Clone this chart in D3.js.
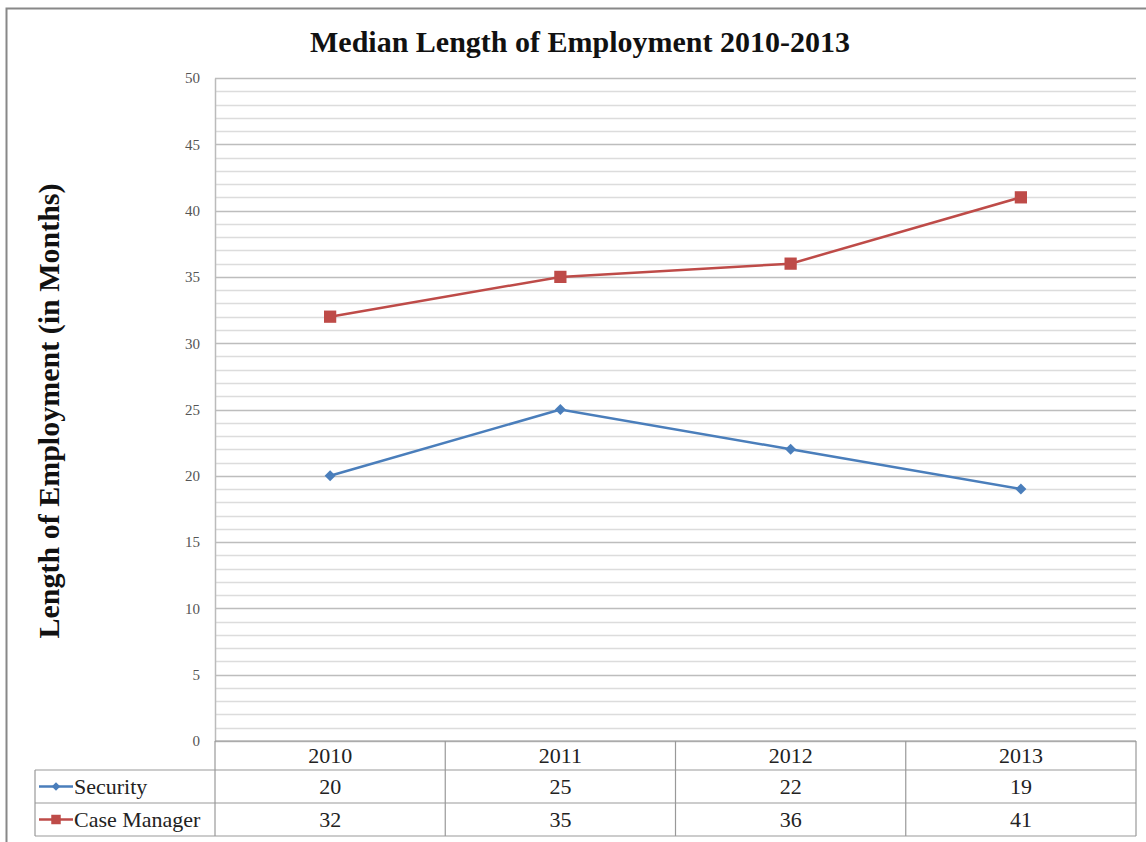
<!DOCTYPE html>
<html>
<head>
<meta charset="utf-8">
<script src="https://cdn.jsdelivr.net/npm/d3@7"></script>
<style>
  body { margin: 0; background: #fff; }
  svg text { font-family: "Liberation Serif", "Times New Roman", serif; }
</style>
</head>
<body>
<div id="chart"></div>
<script>
'use strict'

// data
const years = ['2010', '2011', '2012', '2013']
const securityValues = [20, 25, 22, 19]
const caseManagerValues = [32, 35, 36, 41]
const seriesNames = ['Security', 'Case Manager']
const yTicks = [0, 5, 10, 15, 20, 25, 30, 35, 40, 45, 50]

const series = [
  { name: seriesNames[0], values: securityValues, color: '#4a7ebb', marker: 'diamond' },
  { name: seriesNames[1], values: caseManagerValues, color: '#be4b48', marker: 'square' }
]

const width = 1146
const height = 842
const plot = { left: 215, right: 1136, top: 78, bottom: 741 }
const tableLeft = 35
const rowBounds = [741, 770, 803, 836]

const svg = d3.select('#chart')
  .append('svg')
  .attr('width', width)
  .attr('height', height)

// outer frame
svg.append('rect')
  .attr('x', 6.5).attr('y', 8.5)
  .attr('width', width - 4).attr('height', height - 4)
  .attr('fill', 'none')
  .attr('stroke', '#888')
  .attr('stroke-width', 2)

const x = d3.scaleBand()
  .domain(years)
  .range([plot.left, plot.right])

const y = d3.scaleLinear()
  .domain([0, 50])
  .range([plot.bottom, plot.top])

// minor gridlines
svg.append('g')
  .selectAll('line')
  .data(d3.range(0, 51, 1).filter(v => v % 5 !== 0))
  .enter()
  .append('line')
  .attr('x1', plot.left).attr('x2', plot.right)
  .attr('y1', d => Math.round(y(d)) + 0.5)
  .attr('y2', d => Math.round(y(d)) + 0.5)
  .attr('stroke', '#dcdcdc')
  .attr('stroke-width', 1.5)

// major gridlines
svg.append('g')
  .selectAll('line')
  .data(yTicks)
  .enter()
  .append('line')
  .attr('x1', plot.left).attr('x2', plot.right)
  .attr('y1', d => Math.round(y(d)) + 0.5)
  .attr('y2', d => Math.round(y(d)) + 0.5)
  .attr('stroke', '#bdbdbd')
  .attr('stroke-width', 1.5)

// y axis
const yAxis = svg.append('g')
  .attr('transform', `translate(${plot.left},0)`)
  .call(d3.axisLeft(y).tickValues(yTicks).tickSize(0).tickPadding(15))
yAxis.select('.domain').attr('stroke', '#bbb').attr('stroke-width', 1.5)
yAxis.selectAll('text')
  .attr('font-size', 15)
  .attr('fill', '#555')
  .style('font-family', '"Liberation Serif", serif')

// title
svg.append('text')
  .attr('x', 580).attr('y', 52)
  .attr('text-anchor', 'middle')
  .attr('font-size', 30)
  .attr('font-weight', 'bold')
  .attr('fill', '#111')
  .text('Median Length of Employment 2010-2013')

// y axis label
svg.append('text')
  .attr('transform', 'translate(59,411) rotate(-90)')
  .attr('text-anchor', 'middle')
  .attr('font-size', 30)
  .attr('font-weight', 'bold')
  .attr('fill', '#111')
  .text('Length of Employment (in Months)')

// lines and markers
const line = d3.line()
  .x((d, i) => x(years[i]) + x.bandwidth() / 2)
  .y(d => y(d))

const symbolFor = m => m === 'diamond'
  ? d3.symbol().type(d3.symbolSquare).size(60)
  : d3.symbol().type(d3.symbolSquare).size(150)

series.forEach(s => {
  svg.append('path')
    .datum(s.values)
    .attr('d', line)
    .attr('fill', 'none')
    .attr('stroke', s.color)
    .attr('stroke-width', 2.5)

  svg.append('g')
    .selectAll('path')
    .data(s.values)
    .enter()
    .append('path')
    .attr('d', symbolFor(s.marker))
    .attr('transform', (d, i) => {
      const cx = x(years[i]) + x.bandwidth() / 2
      const rot = s.marker === 'diamond' ? ' rotate(45)' : ''
      return `translate(${cx},${y(d)})${rot}`
    })
    .attr('fill', s.color)
})

// data table
const table = svg.append('g').attr('stroke', '#999').attr('stroke-width', 1.2)
table.append('line')
  .attr('x1', plot.left).attr('x2', plot.right)
  .attr('y1', rowBounds[0]).attr('y2', rowBounds[0])
rowBounds.slice(1).forEach(yy => {
  table.append('line')
    .attr('x1', tableLeft).attr('x2', plot.right)
    .attr('y1', yy).attr('y2', yy)
})
years.forEach(yr => {
  table.append('line')
    .attr('x1', x(yr)).attr('x2', x(yr))
    .attr('y1', rowBounds[0]).attr('y2', rowBounds[3])
})
table.append('line')
  .attr('x1', plot.right).attr('x2', plot.right)
  .attr('y1', rowBounds[0]).attr('y2', rowBounds[3])
table.append('line')
  .attr('x1', tableLeft).attr('x2', tableLeft)
  .attr('y1', rowBounds[1]).attr('y2', rowBounds[3])

// header labels
svg.append('g')
  .selectAll('text')
  .data(years)
  .enter()
  .append('text')
  .attr('x', d => x(d) + x.bandwidth() / 2)
  .attr('y', (rowBounds[0] + rowBounds[1]) / 2 + 7)
  .attr('text-anchor', 'middle')
  .attr('font-size', 22)
  .attr('fill', '#222')
  .text(d => d)

series.forEach((s, r) => {
  const rowMid = (rowBounds[r + 1] + rowBounds[r + 2]) / 2
  svg.append('g')
    .selectAll('text')
    .data(s.values)
    .enter()
    .append('text')
    .attr('x', (d, i) => x(years[i]) + x.bandwidth() / 2)
    .attr('y', rowMid + 7)
    .attr('text-anchor', 'middle')
    .attr('font-size', 22)
    .attr('fill', '#222')
    .text(d => d)

  // legend key
  svg.append('line')
    .attr('x1', tableLeft + 4).attr('x2', tableLeft + 38)
    .attr('y1', rowMid).attr('y2', rowMid)
    .attr('stroke', s.color)
    .attr('stroke-width', 2.5)
  svg.append('path')
    .attr('d', s.marker === 'diamond'
      ? d3.symbol().type(d3.symbolSquare).size(36)()
      : d3.symbol().type(d3.symbolSquare).size(90)())
    .attr('transform', `translate(${tableLeft + 21},${rowMid})${s.marker === 'diamond' ? ' rotate(45)' : ''}`)
    .attr('fill', s.color)
  svg.append('text')
    .attr('x', tableLeft + 39)
    .attr('y', rowMid + 7)
    .attr('font-size', 22)
    .attr('fill', '#222')
    .text(s.name)
})
</script>
</body>
</html>
